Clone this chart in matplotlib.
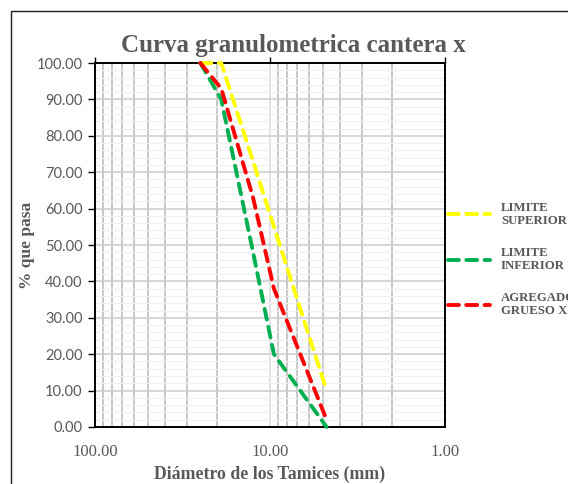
import matplotlib
matplotlib.use("Agg")
import matplotlib.pyplot as plt
from matplotlib.patches import Rectangle
from matplotlib.ticker import FixedLocator, MultipleLocator, FormatStrFormatter, NullFormatter

# datos de la curva granulometrica
tamices = [25.0, 19.0, 12.5, 9.5, 4.75]          # abertura en mm
limite_superior = [100, 100, 73, 55, 10]
limite_inferior = [100, 90, 48, 20, 0]
agregado_grueso = [100, 93, 63, 38, 2]

etiquetas = ["LIMITE\nSUPERIOR", "LIMITE\nINFERIOR", "AGREGADO\nGRUESO X"]
colores = ["#FFFF00", "#00B050", "#FF0000"]

GRIS = "#595959"
SERIF = "Liberation Serif"


def main():
    fig = plt.figure(figsize=(5.68, 4.84), dpi=100)
    ax = fig.add_axes([0.1673, 0.1178, 0.6162, 0.752])

    # marco exterior del grafico
    fig.patches.append(Rectangle((11 / 568, -0.2), 1.2, 0.2 + 1 - 11 / 484,
                                 transform=fig.transFigure, fill=False,
                                 edgecolor="#202020", linewidth=1.0))

    series = [limite_superior, limite_inferior, agregado_grueso]
    for valores, etiqueta, color in zip(series, etiquetas, colores):
        ax.plot(tamices, valores, color=color, linewidth=2.8,
                linestyle=(0, (2.8, 1.9)), dash_capstyle="round",
                label=etiqueta, zorder=3, clip_on=False)

    ax.set_xscale("log")
    ax.set_xlim(100, 1)
    ax.set_ylim(0, 100)

    ax.xaxis.set_major_locator(FixedLocator([100, 10, 1]))
    ax.xaxis.set_major_formatter(FormatStrFormatter("%.2f"))
    ax.xaxis.set_minor_locator(FixedLocator([m * 10 ** k for k in (0, 1) for m in range(2, 10)]))
    ax.xaxis.set_minor_formatter(NullFormatter())
    ax.yaxis.set_major_locator(MultipleLocator(10))
    ax.yaxis.set_major_formatter(FormatStrFormatter("%.2f"))
    ax.yaxis.set_minor_locator(MultipleLocator(2))

    # rejilla
    ax.set_axisbelow(True)
    ax.grid(True, axis="y", which="minor", color="#EFEFEF", linewidth=0.8)
    ax.grid(True, axis="y", which="major", color="#D0D0D0", linewidth=1.2)
    ax.grid(True, axis="x", which="minor", color="#BFBFBF", linewidth=1.2)
    ax.grid(True, axis="x", which="major", color="#DDDDDD", linewidth=1.2)

    for lado in ax.spines.values():
        lado.set_color("black")
        lado.set_linewidth(1.4)

    ax.tick_params(axis="y", which="major", direction="out", length=5, width=1,
                   color="black", labelcolor=GRIS, labelsize=10.5, pad=4)
    ax.tick_params(axis="y", which="minor", length=0)
    ax.tick_params(axis="x", which="major", top=True, bottom=False, direction="out",
                   length=4, width=1, color="black", labelcolor=GRIS, labelsize=12, pad=8)
    ax.tick_params(axis="x", which="minor", length=0)
    for t in ax.get_yticklabels():
        t.set_family("Lato")
    for t in ax.get_xticklabels():
        t.set_family(SERIF)

    fig.text(0.516, 0.907, "Curva granulometrica cantera x", ha="center", va="center",
             fontsize=18, fontweight="bold", color=GRIS, family=SERIF)
    ax.set_xlabel("Diámetro de los Tamices (mm)", fontsize=12.8, fontweight="bold",
                  color=GRIS, family=SERIF, labelpad=4)
    ax.set_ylabel("% que pasa", fontsize=12.5, fontweight="bold", color=GRIS,
                  family=SERIF, labelpad=1)

    leyenda = ax.legend(loc="center left", bbox_to_anchor=(1.008, 0.46), frameon=False,
                        prop={"family": SERIF, "weight": "bold", "size": 9.2},
                        handlelength=3.3, handletextpad=0.85, labelspacing=1.55,
                        borderpad=0, borderaxespad=0)
    for t in leyenda.get_texts():
        t.set_color(GRIS)
        t.set_linespacing(1.15)

    fig.savefig("out.png", dpi=100, facecolor="white")


if __name__ == "__main__":
    main()
